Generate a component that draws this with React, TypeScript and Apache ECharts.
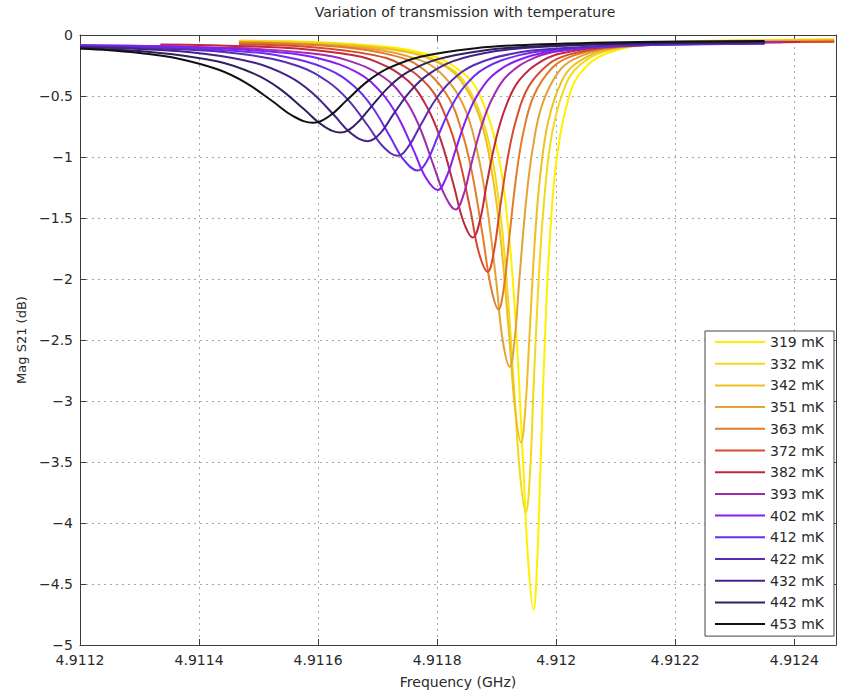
import React, { useEffect, useRef } from "react";
import * as echarts from "echarts";

// ---- Data (frequency in GHz, Mag S21 in dB) ----
const TEMPS = ["319 mK", "332 mK", "342 mK", "351 mK", "363 mK", "372 mK", "382 mK", "393 mK", "402 mK", "412 mK", "422 mK", "432 mK", "442 mK", "453 mK"];

const COLORS = ["#fff000", "#f0da1c", "#efbf22", "#e3a334", "#e27c2a", "#d74a2c", "#bf283e", "#a22ab0", "#8a1cf2", "#6a2ef0", "#5a2cb4", "#44228a", "#32205e", "#111114"];

const s319 = [[4.911467,-0.047],[4.911662,-0.076],[4.911782,-0.156],[4.911842,-0.305],[4.911872,-0.498],[4.911902,-0.966],[4.91192,-1.612],[4.911932,-2.37],[4.911944,-3.47],[4.911953,-4.32],[4.911962,-4.71],[4.911968,-4.32],[4.911974,-3.47],[4.911982,-2.37],[4.91199,-1.612],[4.912002,-0.966],[4.912022,-0.498],[4.912042,-0.305],[4.912082,-0.156],[4.912162,-0.076],[4.9123,-0.046],[4.912467,-0.037]];
const s332 = [[4.911467,-0.048],[4.911619,-0.068],[4.911751,-0.135],[4.911817,-0.258],[4.91185,-0.418],[4.911883,-0.806],[4.911903,-1.34],[4.911916,-1.97],[4.911929,-2.88],[4.911939,-3.59],[4.911949,-3.91],[4.911956,-3.59],[4.911962,-2.88],[4.911971,-1.97],[4.91198,-1.34],[4.911993,-0.806],[4.912015,-0.418],[4.912037,-0.258],[4.912081,-0.135],[4.912169,-0.068],[4.9123,-0.045],[4.912467,-0.037]];
const s342 = [[4.911467,-0.057],[4.911601,-0.073],[4.911737,-0.129],[4.911805,-0.234],[4.911839,-0.37],[4.911873,-0.7],[4.911893,-1.155],[4.911907,-1.69],[4.911921,-2.47],[4.911931,-3.07],[4.911941,-3.34],[4.911948,-3.07],[4.911955,-2.47],[4.911964,-1.69],[4.911973,-1.155],[4.911987,-0.7],[4.91201,-0.37],[4.912033,-0.234],[4.912079,-0.129],[4.912171,-0.073],[4.9123,-0.054],[4.912467,-0.046]];
const s351 = [[4.911467,-0.06],[4.911532,-0.067],[4.911688,-0.112],[4.911766,-0.198],[4.911805,-0.308],[4.911844,-0.576],[4.911867,-0.946],[4.911883,-1.38],[4.911899,-2.01],[4.91191,-2.5],[4.911922,-2.72],[4.91193,-2.5],[4.911938,-2.01],[4.911949,-1.38],[4.91196,-0.946],[4.911976,-0.576],[4.912003,-0.308],[4.91203,-0.198],[4.912084,-0.112],[4.912192,-0.067],[4.912467,-0.046]];
const s363 = [[4.911467,-0.062],[4.911639,-0.099],[4.911727,-0.169],[4.911771,-0.26],[4.911815,-0.48],[4.911841,-0.784],[4.911859,-1.14],[4.911877,-1.66],[4.91189,-2.06],[4.911903,-2.25],[4.911912,-2.07],[4.911921,-1.67],[4.911933,-1.15],[4.911945,-0.794],[4.911963,-0.49],[4.911993,-0.27],[4.912023,-0.179],[4.912083,-0.109],[4.912203,-0.072],[4.912467,-0.056]];
const s372 = [[4.911467,-0.076],[4.911591,-0.101],[4.911689,-0.161],[4.911738,-0.239],[4.911787,-0.428],[4.911816,-0.689],[4.911836,-0.995],[4.911856,-1.439],[4.91187,-1.783],[4.911885,-1.94],[4.911895,-1.783],[4.911905,-1.439],[4.911919,-0.995],[4.911933,-0.689],[4.911953,-0.428],[4.911987,-0.239],[4.912021,-0.161],[4.912089,-0.101],[4.912225,-0.069],[4.912467,-0.056]];
const s382 = [[4.911335,-0.077],[4.911536,-0.103],[4.911644,-0.154],[4.911698,-0.22],[4.911752,-0.38],[4.911784,-0.601],[4.911806,-0.86],[4.911828,-1.236],[4.911844,-1.527],[4.91186,-1.66],[4.911872,-1.517],[4.911883,-1.226],[4.911899,-0.85],[4.911915,-0.591],[4.911938,-0.37],[4.911977,-0.21],[4.912016,-0.144],[4.912094,-0.093],[4.91225,-0.066],[4.91241,-0.058]];
const s393 = [[4.9112,-0.083],[4.911465,-0.107],[4.911587,-0.15],[4.911648,-0.206],[4.911709,-0.342],[4.911746,-0.53],[4.91177,-0.75],[4.911794,-1.07],[4.911813,-1.317],[4.911831,-1.43],[4.911844,-1.315],[4.911857,-1.064],[4.911875,-0.74],[4.911893,-0.516],[4.911919,-0.326],[4.911963,-0.188],[4.912007,-0.131],[4.912095,-0.087],[4.912271,-0.064],[4.91238,-0.059]];
const s402 = [[4.9112,-0.085],[4.911399,-0.102],[4.911533,-0.141],[4.9116,-0.19],[4.911667,-0.31],[4.911707,-0.476],[4.911734,-0.67],[4.911761,-0.952],[4.911781,-1.17],[4.911801,-1.27],[4.911816,-1.16],[4.911831,-0.942],[4.911851,-0.66],[4.911871,-0.466],[4.911901,-0.3],[4.911951,-0.18],[4.912001,-0.131],[4.912101,-0.092],[4.912301,-0.072],[4.91235,-0.07]];
const s412 = [[4.9112,-0.088],[4.911311,-0.098],[4.911463,-0.131],[4.911539,-0.174],[4.911615,-0.278],[4.911661,-0.422],[4.911691,-0.59],[4.911721,-0.834],[4.911744,-1.024],[4.911767,-1.11],[4.911784,-1.023],[4.911801,-0.832],[4.911824,-0.585],[4.911847,-0.415],[4.911881,-0.27],[4.911938,-0.165],[4.911995,-0.122],[4.912109,-0.088],[4.91235,-0.07]];
const s422 = [[4.9112,-0.092],[4.911398,-0.124],[4.911482,-0.162],[4.911566,-0.254],[4.911616,-0.381],[4.91165,-0.53],[4.911684,-0.746],[4.911709,-0.914],[4.911734,-0.99],[4.911753,-0.905],[4.911772,-0.74],[4.911798,-0.525],[4.911824,-0.375],[4.911862,-0.246],[4.911926,-0.153],[4.91199,-0.115],[4.912118,-0.085],[4.91235,-0.07]];
const s432 = [[4.9112,-0.099],[4.911307,-0.117],[4.911401,-0.15],[4.911495,-0.23],[4.911551,-0.34],[4.911589,-0.47],[4.911627,-0.658],[4.911655,-0.804],[4.911683,-0.87],[4.911705,-0.802],[4.911726,-0.653],[4.911755,-0.46],[4.911784,-0.327],[4.911827,-0.214],[4.911899,-0.132],[4.911971,-0.098],[4.912115,-0.072],[4.91235,-0.059]];
const s442 = [[4.9112,-0.109],[4.911326,-0.143],[4.91143,-0.216],[4.911492,-0.317],[4.911534,-0.435],[4.911576,-0.607],[4.911607,-0.739],[4.911638,-0.8],[4.911662,-0.738],[4.911687,-0.601],[4.911719,-0.425],[4.911751,-0.303],[4.9118,-0.2],[4.911881,-0.125],[4.911962,-0.094],[4.912124,-0.07],[4.91235,-0.06]];
const s453 = [[4.9112,-0.111],[4.91125,-0.126],[4.911307,-0.151],[4.911364,-0.192],[4.911432,-0.283],[4.911478,-0.39],[4.911524,-0.545],[4.911558,-0.665],[4.911592,-0.72],[4.911619,-0.664],[4.911647,-0.54],[4.911683,-0.38],[4.911719,-0.27],[4.911774,-0.176],[4.911865,-0.108],[4.911956,-0.08],[4.912138,-0.058],[4.91235,-0.05]];

const SERIES_DATA = [s319, s332, s342, s351, s363, s372, s382, s393, s402, s412, s422, s432, s442, s453];

const X_MIN = 4.9112;
const X_MAX = 4.91247;
const X_STEP = 0.0002;
const Y_MIN = -5;
const Y_MAX = 0;
const Y_STEP = 0.5;

const TITLE = "Variation of transmission with temperature";
const X_NAME = "Frequency (GHz)";
const Y_NAME = "Mag S21 (dB)";

export default function App() {
  const ref = useRef<HTMLDivElement>(null);
  useEffect(() => {
    document.body.style.margin = "0";
    const chart = echarts.init(ref.current as HTMLDivElement, null, { renderer: "svg" });
    const font = "DejaVu Sans";
    const axisColor = "#3c3c3c";
    const textColor = "#2a2a2a";
    const fmtX = (v: number) => String(parseFloat(v.toFixed(4)));
    const fmtY = (v: number) => String(parseFloat(v.toFixed(1))).replace("-", "\u2212");
    const grid = { left: 80, right: 12, top: 35, bottom: 51, containLabel: false };
    const splitStyle = { show: true, lineStyle: { type: [2, 4], color: "#a8a8a8", width: 1 } };

    chart.setOption({
      animation: false,
      backgroundColor: "#ffffff",
      title: {
        text: TITLE,
        left: 460,
        top: 0,
        textAlign: "center",
        textStyle: { fontFamily: font, fontSize: 14, fontWeight: "normal", color: textColor },
      },
      grid,
      legend: {
        orient: "vertical",
        left: 705,
        top: 331,
        itemWidth: 50,
        itemHeight: 14,
        itemGap: 7.7,
        padding: [4, 10, 5, 9],
        backgroundColor: "#ffffff",
        borderColor: "#444",
        borderWidth: 1,
        itemStyle: { color: "rgba(0,0,0,0)", borderColor: "rgba(0,0,0,0)", borderWidth: 0 },
        lineStyle: { width: 2 },
        textStyle: { fontFamily: font, fontSize: 14, color: textColor },
        data: TEMPS,
      },
      xAxis: [
        {
          type: "value",
          min: X_MIN,
          max: X_MAX,
          interval: X_STEP,
          position: "bottom",
          name: X_NAME,
          nameLocation: "middle",
          nameGap: 30,
          nameTextStyle: { fontFamily: font, fontSize: 14, color: textColor },
          axisLine: { show: true, onZero: false, lineStyle: { color: axisColor, width: 1 } },
          axisTick: { show: true, inside: true, length: 6, lineStyle: { color: axisColor } },
          axisLabel: { formatter: fmtX, fontFamily: font, fontSize: 14, color: textColor, margin: 8, showMaxLabel: false },
          splitLine: splitStyle,
        },
        {
          type: "value",
          min: X_MIN,
          max: X_MAX,
          interval: X_STEP,
          position: "top",
          axisLine: { show: true, onZero: false, lineStyle: { color: axisColor, width: 1 } },
          axisTick: { show: true, inside: true, length: 6, lineStyle: { color: axisColor } },
          axisLabel: { show: false },
          splitLine: { show: false },
        },
      ],
      yAxis: [
        {
          type: "value",
          min: Y_MIN,
          max: Y_MAX,
          interval: Y_STEP,
          position: "left",
          name: Y_NAME,
          nameLocation: "middle",
          nameGap: 52,
          nameTextStyle: { fontFamily: font, fontSize: 13, color: textColor },
          axisLine: { show: true, onZero: false, lineStyle: { color: axisColor, width: 1 } },
          axisTick: { show: true, inside: true, length: 6, lineStyle: { color: axisColor } },
          axisLabel: { formatter: fmtY, fontFamily: font, fontSize: 14, color: textColor, margin: 7 },
          splitLine: splitStyle,
        },
        {
          type: "value",
          min: Y_MIN,
          max: Y_MAX,
          interval: Y_STEP,
          position: "right",
          axisLine: { show: true, onZero: false, lineStyle: { color: axisColor, width: 1 } },
          axisTick: { show: true, inside: true, length: 6, lineStyle: { color: axisColor } },
          axisLabel: { show: false },
          splitLine: { show: false },
        },
      ],
      series: SERIES_DATA.map((d, i) => ({
        name: TEMPS[i],
        type: "line",
        xAxisIndex: 0,
        yAxisIndex: 0,
        data: d,
        symbol: "none",
        smooth: 0.4,
        clip: true,
        lineStyle: { color: COLORS[i], width: 2 },
        itemStyle: { color: COLORS[i] },
        emphasis: { disabled: true },
      })),
    });
    return () => chart.dispose();
  }, []);
  return <div ref={ref} style={{ position: "absolute", left: 0, top: 0, width: 848, height: 696 }} />;
}
